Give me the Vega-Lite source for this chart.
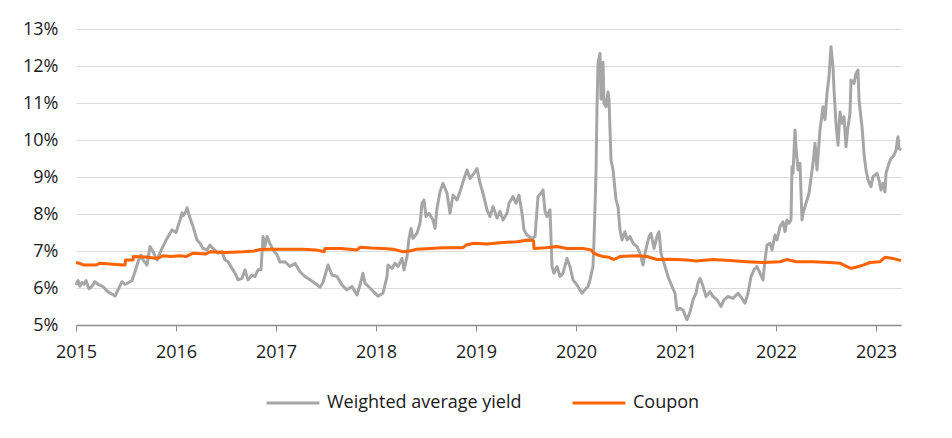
{
  "$schema": "https://vega.github.io/schema/vega-lite/v6.json",
  "width": 825,
  "height": 296,
  "autosize": "none",
  "padding": {"left": 76, "top": 29, "right": 51, "bottom": 113},
  "config": {
    "view": {"stroke": null},
    "font": "Open Sans",
    "axis": {"labelFont": "Open Sans", "labelFontSize": 18, "labelColor": "#1a1a1a", "title": null},
    "legend": {"labelFont": "Open Sans", "labelFontSize": 18, "labelColor": "#1a1a1a", "labelLimit": 400}
  },
  "encoding": {
    "x": {
      "field": "t",
      "type": "quantitative",
      "scale": {"domain": [2015, 2023.25], "nice": false, "zero": false},
      "axis": {
        "values": [2015, 2016, 2017, 2018, 2019, 2020, 2021, 2022, 2023],
        "format": "d",
        "grid": false,
        "domainColor": "#8c8c8c",
        "domainWidth": 1.5,
        "tickColor": "#8c8c8c",
        "tickSize": 6,
        "labelPadding": 12,
        "labelFlush": false
      }
    },
    "y": {
      "field": "v",
      "type": "quantitative",
      "scale": {"domain": [5, 13], "nice": false, "zero": false},
      "axis": {
        "values": [5, 6, 7, 8, 9, 10, 11, 12, 13],
        "labelExpr": "datum.value + '%'",
        "domain": false,
        "ticks": false,
        "labelPadding": 18,
        "gridColor": "#dcdcdc",
        "gridWidth": 1
      }
    }
  },
  "layer": [
    {
      "data": {"values": [
        {"t":2015.00,"v":6.08},{"t":2015.02,"v":6.20},{"t":2015.04,"v":6.05},{"t":2015.06,"v":6.15},{"t":2015.08,"v":6.10},
        {"t":2015.10,"v":6.20},{"t":2015.13,"v":5.98},{"t":2015.16,"v":6.05},{"t":2015.19,"v":6.17},{"t":2015.22,"v":6.10},
        {"t":2015.27,"v":6.04},{"t":2015.31,"v":5.92},{"t":2015.34,"v":5.86},{"t":2015.37,"v":5.82},{"t":2015.39,"v":5.78},
        {"t":2015.42,"v":5.95},{"t":2015.46,"v":6.17},{"t":2015.49,"v":6.10},{"t":2015.51,"v":6.12},{"t":2015.56,"v":6.20},
        {"t":2015.59,"v":6.44},{"t":2015.62,"v":6.71},{"t":2015.65,"v":6.89},{"t":2015.67,"v":6.76},{"t":2015.71,"v":6.62},
        {"t":2015.74,"v":7.12},{"t":2015.77,"v":6.98},{"t":2015.81,"v":6.76},{"t":2015.86,"v":7.07},{"t":2015.91,"v":7.34},
        {"t":2015.96,"v":7.57},{"t":2016.00,"v":7.50},{"t":2016.04,"v":7.84},{"t":2016.06,"v":8.03},{"t":2016.07,"v":7.95},
        {"t":2016.10,"v":8.07},{"t":2016.11,"v":8.17},{"t":2016.14,"v":7.89},{"t":2016.17,"v":7.66},{"t":2016.21,"v":7.30},
        {"t":2016.24,"v":7.21},{"t":2016.27,"v":7.07},{"t":2016.31,"v":7.03},{"t":2016.34,"v":7.16},{"t":2016.37,"v":7.07},
        {"t":2016.42,"v":6.94},{"t":2016.46,"v":6.98},{"t":2016.49,"v":6.76},{"t":2016.52,"v":6.71},{"t":2016.56,"v":6.53},
        {"t":2016.59,"v":6.40},{"t":2016.62,"v":6.22},{"t":2016.66,"v":6.26},{"t":2016.69,"v":6.49},{"t":2016.72,"v":6.22},
        {"t":2016.76,"v":6.35},{"t":2016.79,"v":6.31},{"t":2016.82,"v":6.49},{"t":2016.85,"v":6.49},{"t":2016.87,"v":7.39},
        {"t":2016.89,"v":7.12},{"t":2016.91,"v":7.39},{"t":2016.94,"v":7.20},{"t":2016.97,"v":7.03},{"t":2017.01,"v":6.90},
        {"t":2017.04,"v":6.70},{"t":2017.09,"v":6.71},{"t":2017.14,"v":6.58},{"t":2017.19,"v":6.67},{"t":2017.24,"v":6.44},
        {"t":2017.29,"v":6.31},{"t":2017.34,"v":6.22},{"t":2017.39,"v":6.13},{"t":2017.44,"v":6.02},{"t":2017.47,"v":6.15},
        {"t":2017.52,"v":6.62},{"t":2017.56,"v":6.35},{"t":2017.61,"v":6.31},{"t":2017.66,"v":6.08},{"t":2017.71,"v":5.95},
        {"t":2017.76,"v":6.04},{"t":2017.81,"v":5.81},{"t":2017.84,"v":6.08},{"t":2017.87,"v":6.40},{"t":2017.89,"v":6.13},
        {"t":2017.94,"v":6.00},{"t":2017.99,"v":5.86},{"t":2018.02,"v":5.78},{"t":2018.07,"v":5.86},{"t":2018.11,"v":6.31},
        {"t":2018.12,"v":6.62},{"t":2018.16,"v":6.53},{"t":2018.19,"v":6.67},{"t":2018.22,"v":6.58},{"t":2018.26,"v":6.80},
        {"t":2018.28,"v":6.49},{"t":2018.31,"v":6.85},{"t":2018.33,"v":7.34},{"t":2018.35,"v":7.61},{"t":2018.37,"v":7.34},
        {"t":2018.41,"v":7.48},{"t":2018.44,"v":7.75},{"t":2018.46,"v":8.29},{"t":2018.48,"v":8.38},{"t":2018.50,"v":7.93},
        {"t":2018.53,"v":8.02},{"t":2018.57,"v":7.84},{"t":2018.59,"v":7.61},{"t":2018.61,"v":8.15},{"t":2018.64,"v":8.60},
        {"t":2018.67,"v":8.83},{"t":2018.71,"v":8.56},{"t":2018.74,"v":8.02},{"t":2018.77,"v":8.51},{"t":2018.81,"v":8.38},
        {"t":2018.84,"v":8.60},{"t":2018.87,"v":8.87},{"t":2018.91,"v":9.19},{"t":2018.94,"v":8.96},{"t":2018.98,"v":9.10},
        {"t":2019.01,"v":9.23},{"t":2019.04,"v":8.83},{"t":2019.07,"v":8.56},{"t":2019.11,"v":8.11},{"t":2019.14,"v":7.93},
        {"t":2019.17,"v":8.20},{"t":2019.21,"v":7.89},{"t":2019.24,"v":8.07},{"t":2019.27,"v":7.84},{"t":2019.31,"v":8.02},
        {"t":2019.33,"v":8.29},{"t":2019.37,"v":8.47},{"t":2019.40,"v":8.29},{"t":2019.43,"v":8.51},{"t":2019.46,"v":8.02},
        {"t":2019.48,"v":7.57},{"t":2019.51,"v":7.43},{"t":2019.56,"v":7.34},{"t":2019.59,"v":7.39},{"t":2019.62,"v":8.47},
        {"t":2019.65,"v":8.56},{"t":2019.67,"v":8.65},{"t":2019.69,"v":8.07},{"t":2019.71,"v":7.93},{"t":2019.74,"v":8.11},
        {"t":2019.76,"v":6.58},{"t":2019.78,"v":6.40},{"t":2019.81,"v":6.58},{"t":2019.84,"v":6.31},{"t":2019.87,"v":6.40},
        {"t":2019.91,"v":6.80},{"t":2019.94,"v":6.58},{"t":2019.97,"v":6.22},{"t":2020.01,"v":6.08},{"t":2020.06,"v":5.86},
        {"t":2020.09,"v":5.95},{"t":2020.12,"v":6.04},{"t":2020.14,"v":6.22},{"t":2020.17,"v":6.58},{"t":2020.18,"v":7.30},
        {"t":2020.20,"v":9.10},{"t":2020.21,"v":10.90},{"t":2020.22,"v":12.07},{"t":2020.24,"v":12.34},{"t":2020.25,"v":11.10},
        {"t":2020.27,"v":12.10},{"t":2020.28,"v":11.00},{"t":2020.30,"v":10.90},{"t":2020.32,"v":11.30},{"t":2020.33,"v":11.10},
        {"t":2020.35,"v":9.46},{"t":2020.37,"v":9.20},{"t":2020.40,"v":8.38},{"t":2020.42,"v":8.20},{"t":2020.44,"v":7.57},
        {"t":2020.46,"v":7.30},{"t":2020.49,"v":7.52},{"t":2020.51,"v":7.30},{"t":2020.54,"v":7.39},{"t":2020.57,"v":7.21},
        {"t":2020.61,"v":7.12},{"t":2020.64,"v":6.94},{"t":2020.67,"v":6.62},{"t":2020.69,"v":6.94},{"t":2020.73,"v":7.39},
        {"t":2020.75,"v":7.48},{"t":2020.78,"v":7.07},{"t":2020.81,"v":7.39},{"t":2020.83,"v":7.52},{"t":2020.85,"v":6.94},
        {"t":2020.89,"v":6.58},{"t":2020.92,"v":6.31},{"t":2020.96,"v":6.04},{"t":2020.99,"v":5.86},{"t":2021.01,"v":5.41},
        {"t":2021.04,"v":5.45},{"t":2021.07,"v":5.40},{"t":2021.11,"v":5.14},{"t":2021.14,"v":5.35},{"t":2021.17,"v":5.68},
        {"t":2021.20,"v":5.86},{"t":2021.22,"v":6.13},{"t":2021.24,"v":6.26},{"t":2021.26,"v":6.13},{"t":2021.30,"v":5.77},
        {"t":2021.34,"v":5.90},{"t":2021.37,"v":5.77},{"t":2021.41,"v":5.68},{"t":2021.45,"v":5.50},{"t":2021.48,"v":5.68},
        {"t":2021.52,"v":5.77},{"t":2021.57,"v":5.72},{"t":2021.62,"v":5.86},{"t":2021.66,"v":5.72},{"t":2021.69,"v":5.59},
        {"t":2021.72,"v":5.86},{"t":2021.75,"v":6.31},{"t":2021.78,"v":6.49},{"t":2021.81,"v":6.58},{"t":2021.84,"v":6.40},
        {"t":2021.87,"v":6.22},{"t":2021.89,"v":6.76},{"t":2021.91,"v":7.16},{"t":2021.94,"v":7.21},{"t":2021.96,"v":7.03},
        {"t":2021.99,"v":7.43},{"t":2022.01,"v":7.30},{"t":2022.04,"v":7.66},{"t":2022.07,"v":7.79},{"t":2022.09,"v":7.52},
        {"t":2022.11,"v":7.84},{"t":2022.13,"v":7.75},{"t":2022.15,"v":7.84},{"t":2022.16,"v":9.28},{"t":2022.17,"v":9.10},
        {"t":2022.19,"v":10.27},{"t":2022.20,"v":9.82},{"t":2022.22,"v":9.19},{"t":2022.24,"v":9.37},{"t":2022.26,"v":7.84},
        {"t":2022.27,"v":8.02},{"t":2022.30,"v":8.29},{"t":2022.33,"v":8.56},{"t":2022.37,"v":9.37},{"t":2022.39,"v":9.91},
        {"t":2022.41,"v":9.19},{"t":2022.44,"v":10.27},{"t":2022.47,"v":10.90},{"t":2022.49,"v":10.55},{"t":2022.51,"v":11.26},
        {"t":2022.53,"v":11.71},{"t":2022.55,"v":12.52},{"t":2022.57,"v":11.98},{"t":2022.58,"v":11.35},{"t":2022.60,"v":10.45},
        {"t":2022.62,"v":9.86},{"t":2022.64,"v":10.76},{"t":2022.66,"v":10.45},{"t":2022.68,"v":10.63},{"t":2022.70,"v":9.82},
        {"t":2022.72,"v":10.36},{"t":2022.74,"v":10.72},{"t":2022.75,"v":11.62},{"t":2022.78,"v":11.53},{"t":2022.80,"v":11.80},
        {"t":2022.82,"v":11.89},{"t":2022.83,"v":11.08},{"t":2022.86,"v":10.36},{"t":2022.88,"v":9.64},{"t":2022.90,"v":9.19},
        {"t":2022.92,"v":8.92},{"t":2022.95,"v":8.74},{"t":2022.97,"v":9.01},{"t":2023.01,"v":9.10},{"t":2023.03,"v":8.92},
        {"t":2023.05,"v":8.65},{"t":2023.07,"v":8.83},{"t":2023.09,"v":8.60},{"t":2023.10,"v":9.10},{"t":2023.13,"v":9.37},
        {"t":2023.15,"v":9.50},{"t":2023.18,"v":9.59},{"t":2023.20,"v":9.73},{"t":2023.22,"v":10.09},{"t":2023.23,"v":9.77},
        {"t":2023.25,"v":9.73}
      ]},
      "mark": {"type": "line", "strokeWidth": 3, "strokeJoin": "round"},
      "encoding": {
        "color": {
          "datum": "Weighted average yield",
          "scale": {"domain": ["Weighted average yield", "Coupon"], "range": ["#a6a6a6", "#ff6200"]},
          "legend": {
            "title": null,
            "orient": "none",
            "direction": "horizontal",
            "legendX": 189,
            "legendY": 346,
            "symbolType": "stroke",
            "symbolSize": 2800,
            "symbolStrokeWidth": 3,
            "labelOffset": 6,
            "columnPadding": 44,
            "labelLimit": 400
          }
        }
      }
    },
    {
      "data": {"values": [
        {"t":2015.00,"v":6.69},{"t":2015.03,"v":6.67},{"t":2015.08,"v":6.62},{"t":2015.20,"v":6.62},{"t":2015.24,"v":6.67},
        {"t":2015.34,"v":6.65},{"t":2015.47,"v":6.62},{"t":2015.49,"v":6.62},{"t":2015.495,"v":6.76},{"t":2015.57,"v":6.76},
        {"t":2015.575,"v":6.85},{"t":2015.70,"v":6.84},{"t":2015.81,"v":6.80},{"t":2015.87,"v":6.87},{"t":2015.95,"v":6.85},
        {"t":2016.04,"v":6.87},{"t":2016.10,"v":6.85},{"t":2016.17,"v":6.94},{"t":2016.30,"v":6.92},{"t":2016.34,"v":6.98},
        {"t":2016.50,"v":6.96},{"t":2016.67,"v":6.98},{"t":2016.78,"v":7.00},{"t":2016.84,"v":7.04},{"t":2016.94,"v":7.05},
        {"t":2017.10,"v":7.05},{"t":2017.27,"v":7.05},{"t":2017.40,"v":7.03},{"t":2017.48,"v":6.98},{"t":2017.49,"v":7.07},
        {"t":2017.65,"v":7.07},{"t":2017.81,"v":7.03},{"t":2017.84,"v":7.10},{"t":2017.95,"v":7.08},{"t":2018.07,"v":7.07},
        {"t":2018.17,"v":7.05},{"t":2018.27,"v":6.98},{"t":2018.34,"v":7.00},{"t":2018.41,"v":7.05},{"t":2018.54,"v":7.07},
        {"t":2018.67,"v":7.09},{"t":2018.87,"v":7.09},{"t":2018.90,"v":7.16},{"t":2018.98,"v":7.21},{"t":2019.11,"v":7.19},
        {"t":2019.27,"v":7.23},{"t":2019.41,"v":7.25},{"t":2019.52,"v":7.30},{"t":2019.575,"v":7.28},{"t":2019.58,"v":7.07},
        {"t":2019.70,"v":7.09},{"t":2019.81,"v":7.12},{"t":2019.91,"v":7.07},{"t":2020.07,"v":7.07},{"t":2020.15,"v":7.03},
        {"t":2020.18,"v":6.94},{"t":2020.22,"v":6.89},{"t":2020.27,"v":6.85},{"t":2020.33,"v":6.83},{"t":2020.38,"v":6.77},
        {"t":2020.44,"v":6.85},{"t":2020.61,"v":6.87},{"t":2020.71,"v":6.85},{"t":2020.81,"v":6.77},{"t":2020.94,"v":6.78},
        {"t":2021.11,"v":6.76},{"t":2021.20,"v":6.73},{"t":2021.37,"v":6.77},{"t":2021.54,"v":6.74},{"t":2021.71,"v":6.71},
        {"t":2021.87,"v":6.69},{"t":2022.04,"v":6.71},{"t":2022.11,"v":6.77},{"t":2022.20,"v":6.71},{"t":2022.37,"v":6.71},
        {"t":2022.54,"v":6.69},{"t":2022.64,"v":6.67},{"t":2022.70,"v":6.59},{"t":2022.75,"v":6.53},{"t":2022.80,"v":6.56},
        {"t":2022.87,"v":6.62},{"t":2022.94,"v":6.69},{"t":2023.04,"v":6.71},{"t":2023.09,"v":6.83},{"t":2023.17,"v":6.80},
        {"t":2023.25,"v":6.74}
      ]},
      "mark": {"type": "line", "strokeWidth": 3, "strokeJoin": "round"},
      "encoding": {"color": {"datum": "Coupon"}}
    }
  ]
}
